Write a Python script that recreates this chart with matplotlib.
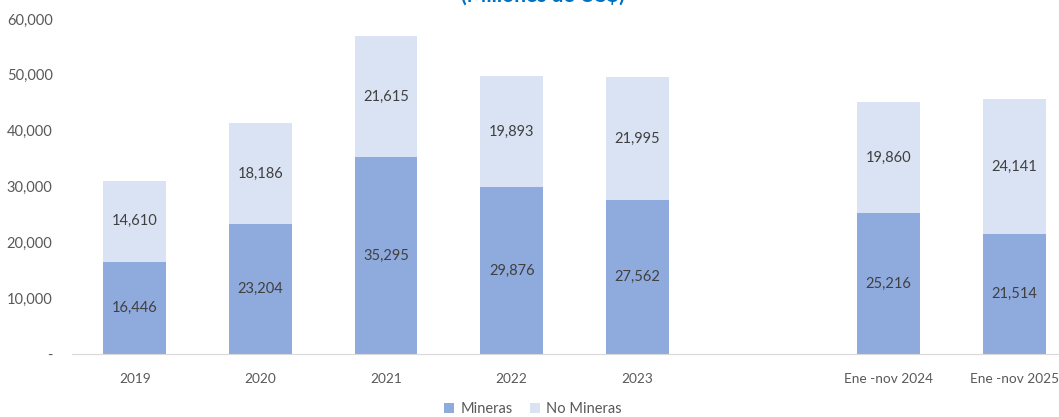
import numpy as np
import matplotlib
matplotlib.use('Agg')
from matplotlib import pyplot as plt
from matplotlib.ticker import FuncFormatter

plt.rcParams['font.family'] = ['Lato', 'DejaVu Sans']

categorias = ['2019', '2020', '2021', '2022', '2023', '', 'Ene -nov 2024', 'Ene -nov 2025']
mineras = [16446, 23204, 35295, 29876, 27562, None, 25216, 21514]
no_mineras = [14610, 18186, 21615, 19893, 21995, None, 19860, 24141]

c_min = '#8FAADC'
c_nomin = '#DAE3F3'
c_txt = '#404040'

fig = plt.figure(figsize=(10.59, 4.17), dpi=100)
ax = fig.add_axes([72 / 1059, 63 / 417, 1005 / 1059, 335 / 417])

x = np.arange(len(categorias))
idx = [i for i, v in enumerate(mineras) if v is not None]
m = np.array([mineras[i] for i in idx])
n = np.array([no_mineras[i] for i in idx])
xs = x[idx]

ax.bar(xs, m, width=0.5, color=c_min, label='Mineras')
ax.bar(xs, n, width=0.5, bottom=m, color=c_nomin, label='No Mineras')

for xi, a, b in zip(xs, m, n):
    ax.text(xi, a / 2, f'{a:,}', ha='center', va='center', fontsize=10.5, color=c_txt)
    ax.text(xi, a + b / 2, f'{b:,}', ha='center', va='center', fontsize=10.5, color=c_txt)

ax.set_xlim(-0.5, len(categorias) - 0.5)
ax.set_ylim(0, 60000)
ax.set_yticks(np.arange(0, 60001, 10000))
ax.yaxis.set_major_formatter(FuncFormatter(lambda v, p: '-' if v == 0 else f'{int(v):,}'))
ax.set_xticks(x)
ax.set_xticklabels(categorias)
ax.tick_params(axis='both', length=0, labelsize=10.5, labelcolor='#595959')
ax.tick_params(axis='x', pad=14, labelsize=9.8)
ax.tick_params(axis='y', pad=14)

for s in ['top', 'right', 'left']:
    ax.spines[s].set_visible(False)
ax.spines['bottom'].set_color('#D9D9D9')

fig.text(543 / 1059, 1.0 + 5 / 417, '(Millones de US$)', ha='center', va='center',
         fontsize=15, fontweight='bold', color='#0070C0')

fig.legend(loc='center', bbox_to_anchor=(533 / 1059, 1 - 409 / 417), ncol=2, frameon=False,
           fontsize=10.5, handlelength=0.7, handleheight=0.7, columnspacing=1.2,
           handletextpad=0.4, labelcolor='#595959')

fig.savefig('out.png', dpi=100)
